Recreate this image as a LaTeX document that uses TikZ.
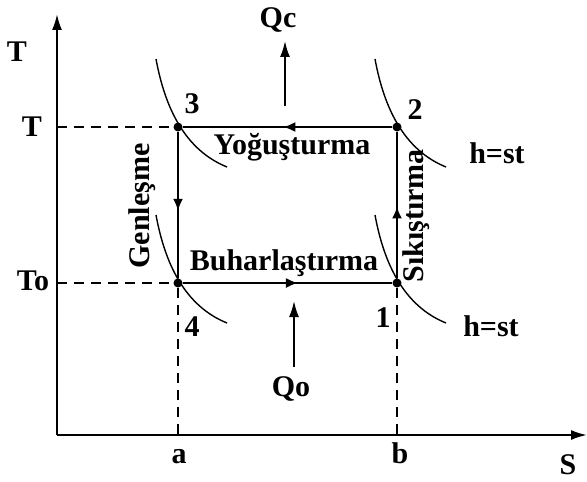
\documentclass[tikz,border=0pt]{standalone}
\usepackage{fontspec}
\setmainfont{Liberation Serif}
\usetikzlibrary{
  arrows.meta,
  calc,
  decorations.markings,
}
\definecolor{ink}{HTML}{000000}
\tikzset{
  ts/.style={
    x=0.5pt, y=-0.5pt,
    font=\fontsize{15}{18}\selectfont\bfseries,
    line join=round,
    line cap=butt,
  },
  axis/.style={
    -{Latex[length=8pt, width=5pt]},
    line width=1pt,
    draw=ink,
  },
  heat/.style={
    -{Latex[length=8pt, width=5pt]},
    line width=0.9pt,
    draw=ink,
  },
  cyc/.style={
    line width=1pt,
    draw=ink,
  },
  midarrow/.style={
    postaction={decorate, decoration={markings,
      mark=at position #1 with {\arrow{Latex[length=6pt, width=5pt]}}}},
  },
  guide/.style={
    line width=0.9pt,
    draw=ink,
    dash pattern=on 5pt off 3.5pt,
  },
  hline/.style={
    line width=0.7pt,
    draw=ink,
  },
  dot/.style={
    circle,
    fill=ink,
    inner sep=0pt,
    minimum size=4.5pt,
  },
  lab/.style={
    text=ink,
    inner sep=0.5pt,
  },
}

\begin{document}
\begin{tikzpicture}[ts]
  \useasboundingbox (0,0) rectangle (587,481);

  % axes
  \coordinate (O) at (57,435);
  \coordinate (ytop) at (57,14);
  \coordinate (xend) at (587,435);
  \draw[axis] (O) -- (ytop);
  \draw[axis] (O) -- (xend);

  % cycle states
  \node[dot] (p1) at (397,283) {};
  \node[dot] (p2) at (397,127) {};
  \node[dot] (p3) at (178,127) {};
  \node[dot] (p4) at (178,283) {};

  % feet on the axes
  \coordinate (fT) at (57,127);
  \coordinate (fTo) at (57,283);
  \coordinate (fa) at (178,435);
  \coordinate (fb) at (397,435);
  \draw[guide] (fT) -- (p3);
  \draw[guide] (fTo) -- (p4);
  \draw[guide] (p4) -- (fa);
  \draw[guide] (p1) -- (fb);

  % cycle 1-2-3-4
  \draw[cyc, midarrow=0.52] (p2) -- (p3);
  \draw[cyc, midarrow=0.54] (p3) -- (p4);
  \draw[cyc, midarrow=0.55] (p4) -- (p1);
  \draw[cyc, midarrow=0.49] (p1) -- (p2);

  % h=st lines through each state
  \foreach \p in {p1,p2,p3,p4} {
    \draw[hline] ($(\p)+(-22,-68)$) .. controls ($(\p)+(-13,-19)$)
      and ($(\p)+(7,23)$) .. ($(\p)+(49,40)$);
  }

  % heat in / out
  \coordinate (qcs) at (285,106);
  \coordinate (qce) at (285,41);
  \draw[heat] (qcs) -- (qce);
  \coordinate (qos) at (294,367);
  \coordinate (qoe) at (294,301);
  \draw[heat] (qos) -- (qoe);

  % labels
  \node[lab] (lT) at (17,52) {T};
  \node[lab] (lTh) at (32,127) {T};
  \node[lab] (lTo) at (33,281) {To};
  \node[lab, anchor=base] (la) at (179,463) {a};
  \node[lab, anchor=base] (lb) at (400,463) {b};
  \node[lab] (lS) at (568,465) {S};
  \node[lab] (n3) at (192,104) {3};
  \node[lab] (n2) at (415,110) {2};
  \node[lab] (n4) at (192,327) {4};
  \node[lab] (n1) at (383,318) {1};
  \node[lab] (hs1) at (497,153) {h=st};
  \node[lab] (hs2) at (491,326) {h=st};
  \node[lab] (Qc) at (278,20) {Qc};
  \node[lab] (Qo) at (291,389) {Qo};
  \node[lab] (cond) at (292,147) {Yoğuşturma};
  \node[lab] (evap) at (284,263) {Buharlaştırma};
  \node[lab, rotate=90] (expn) at (142,206) {Genleşme};
  \node[lab, rotate=90] (comp) at (416,216) {Sıkıştırma};
\end{tikzpicture}
\end{document}
